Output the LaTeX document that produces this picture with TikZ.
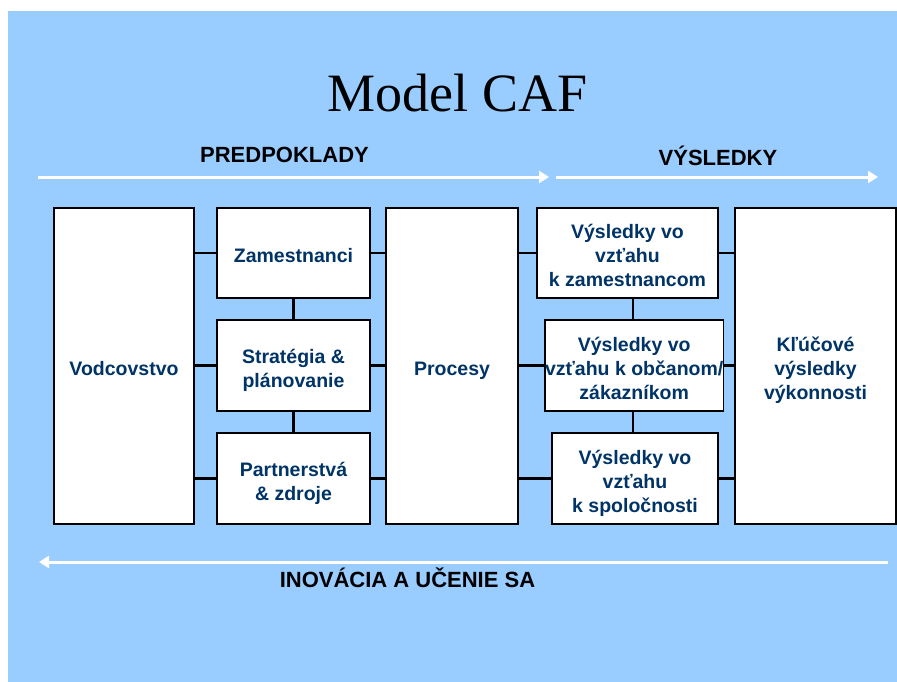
\documentclass[tikz,border=0pt]{standalone}
\usepackage{fontspec}
\setmainfont{Liberation Sans}
\newfontfamily\titlefont{Liberation Serif}
\usetikzlibrary{arrows.meta}
\definecolor{cafblue}{RGB}{153,204,255}
\definecolor{cafnavy}{RGB}{0,51,102}
\newcommand{\topstrut}{\rule{0pt}{1.205em}}
\newcommand{\botstrut}{\rule[-0.212em]{0pt}{0.212em}}
\tikzset{
  box/.style={draw=black, line width=1.2pt, fill=white, anchor=north west,
    inner sep=0pt, outer sep=0pt, align=center, text=cafnavy,
    font=\fontsize{19.5}{24}\selectfont\bfseries},
  conn/.style={draw=black, line width=2.4pt},
  flow/.style={draw=white, line width=3pt, -{Triangle[length=10pt,width=12pt]}},
  heading/.style={anchor=base, font=\fontsize{22}{26}\selectfont\bfseries}
}
\begin{document}
\begin{tikzpicture}[x=1pt, y=-1pt]
				\useasboundingbox (0,0) rectangle (897,682);
				\fill[cafblue] (8,11) rectangle (897,682);
				\node (title) at (457.5,112) [anchor=base, font=\titlefont\fontsize{54}{60}\selectfont] {Model CAF};
				\node (pred) at (284.5,163) [heading] {PREDPOKLADY};
				\node (vysl) at (718,165) [heading] {VÝSLEDKY};
				\coordinate (p1) at (38,177);
				\coordinate (p2) at (549,177);
				\coordinate (v1) at (556,177);
				\coordinate (v2) at (878,177);
				\draw[flow] (p1) -- (p2);
				\draw[flow] (v1) -- (v2);
				% predpoklady
				\node (vod) at (54,208) [box, minimum width=140pt, minimum height=316pt] {\topstrut Vodcovstvo\botstrut};
				\node (zam) at (217,208) [box, minimum width=153pt, minimum height=90pt] {\topstrut Zamestnanci\botstrut};
				\node (str) at (217,320) [box, minimum width=153pt, minimum height=91pt] {\topstrut Stratégia \&\\plánovanie\botstrut};
				\node (par) at (217,433) [box, minimum width=153pt, minimum height=91pt] {\topstrut Partnerstvá\\\& zdroje\botstrut};
				\node (pro) at (386,208) [box, minimum width=132pt, minimum height=316pt] {\topstrut Procesy\botstrut};
				% vysledky
				\node (rzam) at (537,208) [box, minimum width=181pt, minimum height=90pt] {\topstrut Výsledky vo\\vzťahu\\k zamestnancom\botstrut};
				\node (robc) at (545,320) [box, minimum width=173pt, minimum height=91pt] {\topstrut Výsledky vo\\vzťahu k občanom/\\zákazníkom\botstrut};
				\node (rspo) at (552,433) [box, minimum width=166pt, minimum height=91pt] {\topstrut Výsledky vo\\vzťahu\\k spoločnosti\botstrut};
				\node (klu) at (735,208) [box, minimum width=161pt, minimum height=316pt] {\topstrut Kľúčové\\výsledky\\výkonnosti\botstrut};
				% spojnice
				\foreach \b in {zam,str,par} {
					\draw[conn] (\b.west) -- (\b.west -| vod.east);
					\draw[conn] (\b.east) -- (\b.east -| pro.west);
				}
				\foreach \b in {rzam,robc,rspo} {
					\draw[conn] (\b.west) -- (\b.west -| pro.east);
					\draw[conn] (\b.east) -- (\b.east -| klu.west);
				}
				\draw[conn] (zam.south) -- (str.north);
				\draw[conn] (str.south) -- (par.north);
				\coordinate (rx) at (633,0);
				\draw[conn] (rzam.south -| rx) -- (robc.north -| rx);
				\draw[conn] (robc.south -| rx) -- (rspo.north -| rx);
				% inovacia
				\coordinate (i1) at (888,562);
				\coordinate (i2) at (39,562);
				\draw[flow] (i1) -- (i2);
				\node (inov) at (407.5,587) [heading] {INOVÁCIA A UČENIE SA};
		\end{tikzpicture}
\end{document}
